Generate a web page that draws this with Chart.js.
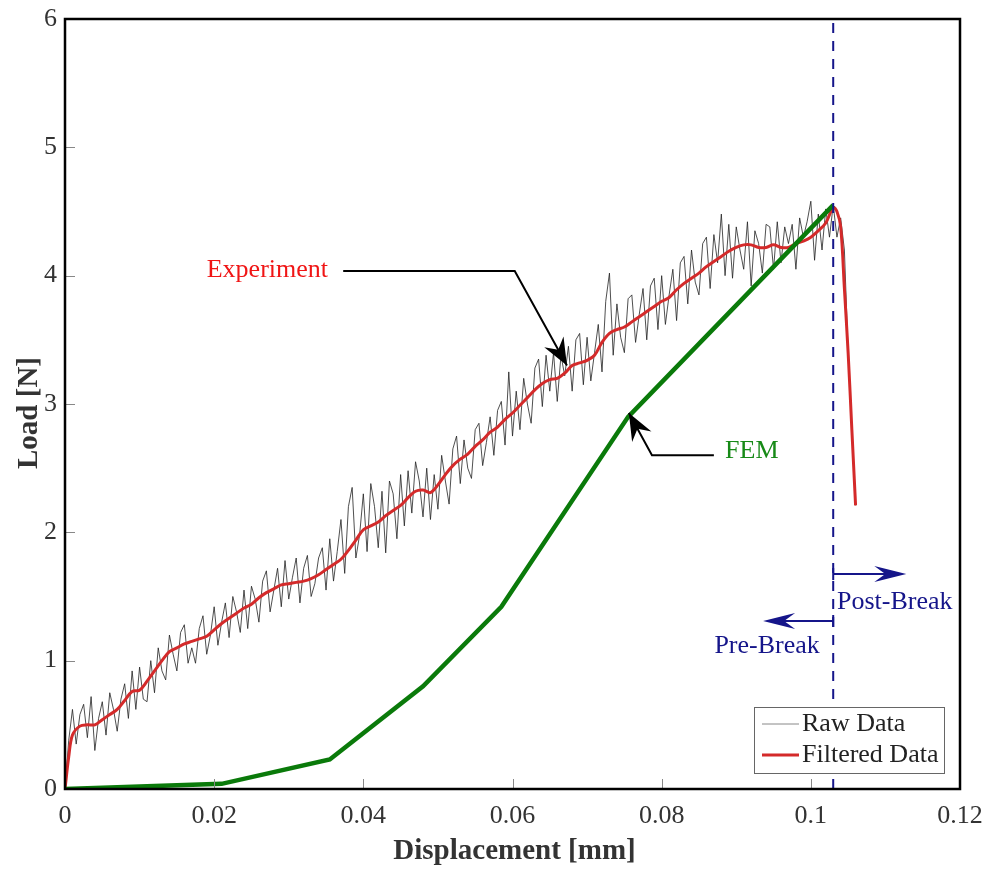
<!DOCTYPE html>
<html><head><meta charset="utf-8">
<script src="https://cdn.jsdelivr.net/npm/chart.js@4/dist/chart.umd.min.js"></script>
<style>html,body{margin:0;padding:0;background:#fff}#wrap{width:991px;height:871px}</style>
</head><body><div id="wrap"><canvas id="c" width="991" height="871"></canvas></div>
<script>
const rawDisp = [0,0.0005,0.001,0.0015,0.002,0.0025,0.003,0.0035,0.004,0.0045,0.005,0.0055,0.006,0.0065,0.007,0.0075,0.008,0.0085,0.009,0.0095,
0.01,0.0105,0.011,0.0115,0.012,0.0125,0.013,0.0135,0.014,0.0145,0.015,0.0155,0.016,0.0165,0.017,0.0175,0.018,0.0185,0.019,0.0195,
0.02,0.0205,0.021,0.0215,0.022,0.0225,0.023,0.0235,0.024,0.0245,0.025,0.0255,0.026,0.0265,0.027,0.0275,0.028,0.0285,0.029,0.0295,
0.03,0.0305,0.031,0.0315,0.032,0.0325,0.033,0.0335,0.034,0.0345,0.035,0.0355,0.036,0.0365,0.037,0.0375,0.038,0.0385,0.039,0.0395,
0.04,0.0405,0.041,0.0415,0.042,0.0425,0.043,0.0435,0.044,0.0445,0.045,0.0455,0.046,0.0465,0.047,0.0475,0.048,0.0485,0.049,0.0495,
0.05,0.0505,0.051,0.0515,0.052,0.0525,0.053,0.0535,0.054,0.0545,0.055,0.0555,0.056,0.0565,0.057,0.0575,0.058,0.0585,0.059,0.0595,
0.06,0.0605,0.061,0.0615,0.062,0.0625,0.063,0.0635,0.064,0.0645,0.065,0.0655,0.066,0.0665,0.067,0.0675,0.068,0.0685,0.069,0.0695,
0.07,0.0705,0.071,0.0715,0.072,0.0725,0.073,0.0735,0.074,0.0745,0.075,0.0755,0.076,0.0765,0.077,0.0775,0.078,0.0785,0.079,0.0795,
0.08,0.0805,0.081,0.0815,0.082,0.0825,0.083,0.0835,0.084,0.0845,0.085,0.0855,0.086,0.0865,0.087,0.0875,0.088,0.0885,0.089,0.0895,
0.09,0.0905,0.091,0.0915,0.092,0.0925,0.093,0.0935,0.094,0.0945,0.095,0.0955,0.096,0.0965,0.097,0.0975,0.098,0.0985,0.099,0.0995,
0.1,0.1005,0.101,0.1015,0.102,0.1025,0.103,0.1035,0.104,0.1045,0.105,0.1055,0.106];
const rawLoad = [0,0.38,0.62,0.35,0.58,0.66,0.4,0.72,0.3,0.55,0.68,0.42,0.75,0.62,0.45,0.7,0.82,0.55,0.92,0.62,
0.95,0.7,0.68,1.0,0.75,1.1,0.92,0.85,1.2,1.05,0.92,1.22,1.28,0.98,1.1,0.98,1.25,1.35,1.05,1.2,
1.42,1.12,1.3,1.45,1.18,1.5,1.38,1.22,1.55,1.25,1.58,1.48,1.3,1.62,1.7,1.38,1.55,1.72,1.42,1.78,
1.48,1.65,1.8,1.45,1.72,1.82,1.5,1.6,1.8,1.88,1.55,1.95,1.62,1.85,2.1,1.68,2.2,2.35,1.8,1.98,
2.3,1.85,2.38,2.2,1.88,2.32,1.84,2.4,2.3,1.95,2.45,2.05,2.48,2.15,2.55,2.4,2.12,2.5,2.1,2.45,
2.18,2.6,2.4,2.22,2.65,2.75,2.38,2.72,2.5,2.42,2.8,2.85,2.52,2.7,2.9,2.6,2.95,3.02,2.68,3.25,
2.75,3.1,2.8,3.2,3.0,2.85,3.28,3.35,2.98,3.38,3.1,3.4,3.02,3.38,3.22,3.45,3.1,3.5,3.55,3.15,
3.52,3.18,3.4,3.62,3.25,3.8,4.02,3.38,3.78,3.52,3.4,3.82,3.85,3.48,3.7,3.9,3.5,3.92,3.98,3.58,
4.0,3.62,3.85,4.05,3.65,4.1,4.15,3.78,4.2,3.95,3.85,4.25,4.3,3.9,4.32,4.1,4.48,4.0,4.4,3.98,
4.38,4.2,4.05,4.42,3.92,4.35,4.25,4.02,4.4,4.38,4.05,4.42,4.1,4.38,4.25,4.4,4.05,4.45,4.3,4.42,
4.58,4.12,4.48,4.2,4.52,4.3,4.55,4.3,4.45,4.2,3.4,2.8,2.21];

const filtDisp = [0,0.0005,0.001,0.002,0.003,0.004,0.005,0.006,0.007,0.008,0.009,0.01,0.011,0.012,0.013,0.014,0.015,0.016,0.017,0.018,0.019,
0.02,0.021,0.022,0.023,0.024,0.025,0.026,0.027,0.028,0.029,0.03,0.031,0.032,0.033,0.034,0.035,0.036,0.037,0.038,0.039,
0.04,0.041,0.042,0.043,0.044,0.045,0.046,0.047,0.048,0.049,0.05,0.051,0.052,0.053,0.054,0.055,0.056,0.057,0.058,0.059,
0.06,0.061,0.062,0.063,0.064,0.065,0.066,0.067,0.068,0.069,0.07,0.071,0.072,0.073,0.074,0.075,0.076,0.077,0.078,0.079,
0.08,0.081,0.082,0.083,0.084,0.085,0.086,0.087,0.088,0.089,0.09,0.091,0.092,0.093,0.094,0.095,0.096,0.097,0.098,0.099,
0.1,0.101,0.102,0.103,0.1035,0.104,0.1045,0.105,0.1055,0.106];
const filtLoad = [0,0.25,0.42,0.49,0.5,0.5,0.54,0.58,0.62,0.69,0.76,0.77,0.84,0.92,1.0,1.07,1.1,1.13,1.15,1.17,1.19,
1.24,1.29,1.33,1.37,1.41,1.44,1.49,1.53,1.56,1.59,1.6,1.61,1.62,1.64,1.67,1.71,1.75,1.79,1.86,1.94,
2.02,2.05,2.08,2.13,2.17,2.21,2.27,2.32,2.33,2.31,2.37,2.45,2.52,2.57,2.61,2.67,2.72,2.78,2.82,2.88,
2.93,2.99,3.05,3.11,3.16,3.19,3.2,3.24,3.3,3.32,3.34,3.38,3.48,3.55,3.58,3.6,3.64,3.68,3.72,3.76,
3.8,3.83,3.89,3.94,3.98,4.02,4.07,4.11,4.15,4.19,4.22,4.24,4.24,4.22,4.22,4.24,4.22,4.22,4.25,4.27,
4.3,4.35,4.41,4.53,4.5,4.38,3.9,3.4,2.8,2.21];

const femDisp = [0,0.021,0.0355,0.048,0.0585,0.0755,0.103];
const femLoad = [0,0.04,0.23,0.8,1.42,2.9,4.55];

const breakDisp = 0.103;
const xTicks = [0,0.02,0.04,0.06,0.08,0.1,0.12];
const yTicks = [0,1,2,3,4,5,6];

const SERIF = "'Liberation Serif','DejaVu Serif',serif";
const zip = (xs, ys) => xs.map((x, i) => ({x: x, y: ys[i]}));

function arrowHead(ctx, fx, fy, tx, ty, L, W, notch) {
  const dx = tx - fx, dy = ty - fy, d = Math.hypot(dx, dy);
  const ux = dx / d, uy = dy / d, nx = -uy, ny = ux;
  ctx.beginPath();
  ctx.moveTo(tx, ty);
  ctx.lineTo(tx - L*ux + W*nx, ty - L*uy + W*ny);
  ctx.lineTo(tx - (L-notch)*ux, ty - (L-notch)*uy);
  ctx.lineTo(tx - L*ux - W*nx, ty - L*uy - W*ny);
  ctx.closePath();
  ctx.fill();
}

const decor = {
  id: 'decor',
  afterDatasetsDraw(ch) {
    const ctx = ch.ctx, a = ch.chartArea, xs = ch.scales.x, ys = ch.scales.y;
    const X = v => xs.getPixelForValue(v), Y = v => ys.getPixelForValue(v);
    ctx.save();
    // inward ticks
    ctx.strokeStyle = '#888'; ctx.lineWidth = 1;
    yTicks.forEach(t => { const y = Math.round(Y(t)) + 0.5; ctx.beginPath(); ctx.moveTo(a.left, y); ctx.lineTo(a.left + 10, y); ctx.stroke(); });
    xTicks.forEach(t => { const x = Math.round(X(t)) + 0.5; ctx.beginPath(); ctx.moveTo(x, a.bottom); ctx.lineTo(x, a.bottom - 10); ctx.stroke(); });
    // frame
    ctx.strokeStyle = '#000'; ctx.lineWidth = 2.5;
    ctx.strokeRect(a.left, a.top, a.right - a.left, a.bottom - a.top);

    // Experiment annotation
    ctx.font = '26px ' + SERIF; ctx.textBaseline = 'middle';
    ctx.fillStyle = '#f01515'; ctx.textAlign = 'left';
    ctx.fillText('Experiment', X(0.0190), Y(4.04));
    ctx.strokeStyle = '#000'; ctx.fillStyle = '#000'; ctx.lineWidth = 2;
    let p1 = [X(0.0373), Y(4.036)], p2 = [X(0.0603), Y(4.036)], p3 = [X(0.0673), Y(3.30)];
    ctx.beginPath(); ctx.moveTo(p1[0], p1[1]); ctx.lineTo(p2[0], p2[1]); ctx.lineTo(p3[0], p3[1]); ctx.stroke();
    arrowHead(ctx, p2[0], p2[1], p3[0], p3[1], 27, 11, 9);

    // FEM annotation
    ctx.fillStyle = '#178a17';
    ctx.fillText('FEM', X(0.0885), Y(2.63));
    ctx.fillStyle = '#000';
    p1 = [X(0.0870), Y(2.60)]; p2 = [X(0.0787), Y(2.60)]; p3 = [X(0.0756), Y(2.93)];
    ctx.beginPath(); ctx.moveTo(p1[0], p1[1]); ctx.lineTo(p2[0], p2[1]); ctx.lineTo(p3[0], p3[1]); ctx.stroke();
    arrowHead(ctx, p2[0], p2[1], p3[0], p3[1], 27, 11, 9);

    // Break arrows
    const navy = '#15158a';
    ctx.strokeStyle = navy; ctx.fillStyle = navy; ctx.lineWidth = 2;
    const bx = X(breakDisp);
    let yA = Y(1.675), xA = X(0.1128);
    ctx.beginPath(); ctx.moveTo(bx, yA); ctx.lineTo(xA - 10, yA); ctx.stroke();
    ctx.beginPath(); ctx.moveTo(bx, yA - 6); ctx.lineTo(bx, yA + 6); ctx.stroke();
    arrowHead(ctx, bx, yA, xA, yA, 32, 8, 11);
    ctx.textAlign = 'left';
    ctx.fillText('Post-Break', X(0.1035), Y(1.457));
    let yB = Y(1.309), xB = X(0.0936);
    ctx.beginPath(); ctx.moveTo(bx, yB); ctx.lineTo(xB + 10, yB); ctx.stroke();
    ctx.beginPath(); ctx.moveTo(bx, yB - 6); ctx.lineTo(bx, yB + 6); ctx.stroke();
    arrowHead(ctx, bx, yB, xB, yB, 32, 8, 11);
    ctx.textAlign = 'right';
    ctx.fillText('Pre-Break', X(0.1012), Y(1.114));

    // legend
    const lw = 190, lh = 66, lx = a.right - 16 - lw, ly = a.bottom - 16 - lh;
    ctx.fillStyle = '#fff'; ctx.fillRect(lx, ly, lw, lh);
    ctx.strokeStyle = '#666'; ctx.lineWidth = 1; ctx.strokeRect(lx + 0.5, ly + 0.5, lw, lh);
    ctx.strokeStyle = '#888'; ctx.lineWidth = 1;
    ctx.beginPath(); ctx.moveTo(lx + 8, ly + 17); ctx.lineTo(lx + 45, ly + 17); ctx.stroke();
    ctx.strokeStyle = '#d42a2a'; ctx.lineWidth = 3;
    ctx.beginPath(); ctx.moveTo(lx + 8, ly + 48); ctx.lineTo(lx + 45, ly + 48); ctx.stroke();
    ctx.fillStyle = '#222'; ctx.textAlign = 'left'; ctx.font = '26px ' + SERIF;
    ctx.fillText('Raw Data', lx + 48, ly + 17);
    ctx.fillText('Filtered Data', lx + 48, ly + 48);

    // axis titles
    ctx.fillStyle = '#333'; ctx.font = 'bold 29px ' + SERIF; ctx.textAlign = 'center';
    ctx.fillText('Displacement [mm]', (a.left + a.right) / 2 + 2, 852);
    ctx.translate(30, (a.top + a.bottom) / 2 + 9); ctx.rotate(-Math.PI / 2);
    ctx.fillText('Load [N]', 0, 0);
    ctx.restore();
  }
};

new Chart(document.getElementById('c'), {
  type: 'line',
  data: {
    datasets: [
      { label: 'Raw Data', data: zip(rawDisp, rawLoad), borderColor: '#222', borderWidth: 0.8, pointRadius: 0, tension: 0, order: 4 },
      { label: 'Filtered Data', data: zip(filtDisp, filtLoad), borderColor: '#d42a2a', borderWidth: 3, pointRadius: 0, tension: 0.35, order: 3 },
      { label: 'FEM', data: zip(femDisp, femLoad), borderColor: '#0a7a0a', borderWidth: 4.5, pointRadius: 0, tension: 0, order: 2 },
      { label: 'Break', data: [{x: breakDisp, y: 0}, {x: breakDisp, y: 6}], borderColor: '#15158a', borderWidth: 2, borderDash: [10, 8], pointRadius: 0, order: 1 }
    ]
  },
  options: {
    responsive: false, animation: false,
    layout: { padding: { left: 0, top: 19, right: 31, bottom: 0 } },
    plugins: { legend: { display: false }, tooltip: { enabled: false } },
    scales: {
      x: {
        type: 'linear', min: 0, max: 0.12,
        afterBuildTicks: s => { s.ticks = xTicks.map(v => ({value: v})); },
        afterFit: s => { s.height = 82; s.paddingLeft = 0; s.paddingRight = 0; },
        grid: { display: false, drawTicks: false },
        border: { display: false },
        ticks: { padding: 12, color: '#333', font: { family: SERIF, size: 26 }, maxRotation: 0,
                 callback: v => String(parseFloat(Number(v).toFixed(4))) }
      },
      y: {
        type: 'linear', min: 0, max: 6,
        afterBuildTicks: s => { s.ticks = yTicks.map(v => ({value: v})); },
        afterFit: s => { s.width = 65; s.paddingTop = 0; s.paddingBottom = 0; },
        grid: { display: false, drawTicks: false },
        border: { display: false },
        ticks: { padding: 8, color: '#333', font: { family: SERIF, size: 26 } }
      }
    }
  },
  plugins: [decor]
});
</script></body></html>
